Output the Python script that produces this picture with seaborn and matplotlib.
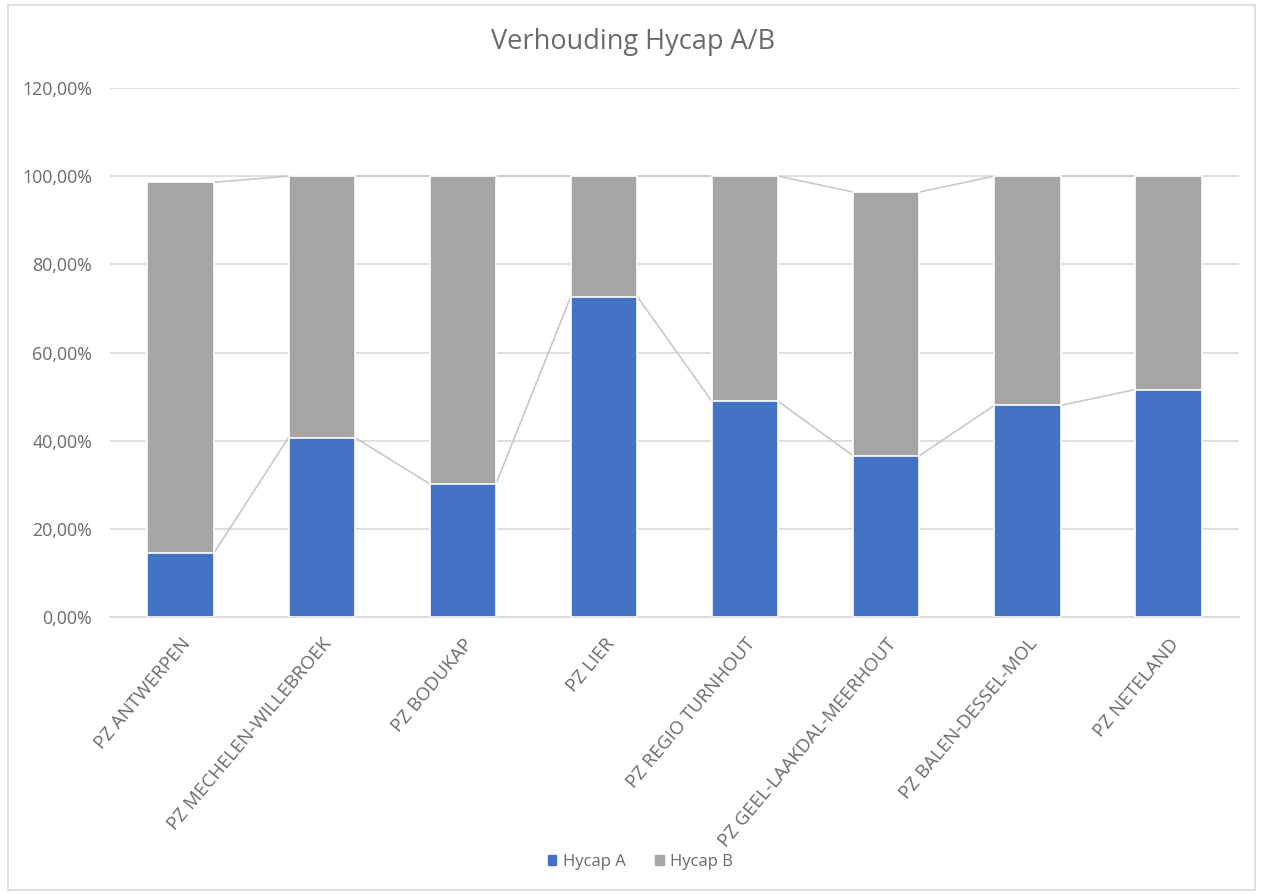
import matplotlib
matplotlib.use("Agg")
import matplotlib.pyplot as plt
import seaborn as sns
import pandas as pd
from matplotlib.ticker import FuncFormatter
from matplotlib.patches import Rectangle

categories = ["PZ ANTWERPEN", "PZ MECHELEN-WILLEBROEK", "PZ BODUKAP", "PZ LIER",
              "PZ REGIO TURNHOUT", "PZ GEEL-LAAKDAL-MEERHOUT", "PZ BALEN-DESSEL-MOL",
              "PZ NETELAND"]
hycap_a = [14.5, 40.7, 30.2, 72.7, 48.9, 36.6, 48.0, 51.6]
hycap_b = [84.1, 59.3, 69.8, 27.3, 51.1, 59.8, 52.0, 48.4]
yticks = [0, 20, 40, 60, 80, 100, 120]

blue = "#4472C4"
gray = "#A5A5A5"
txt = "#6A6A6A"

sns.set_theme(style="white")
plt.rcParams['font.family'] = ['Open Sans', 'DejaVu Sans']

totals = [a + b for a, b in zip(hycap_a, hycap_b)]
df = pd.DataFrame({"cat": categories, "A": hycap_a, "B": hycap_b, "total": totals})

fig = plt.figure(figsize=(12.63, 8.94), dpi=100)
ax = fig.add_axes([0.0871, 0.3098, 0.894, 0.5918])
width = 0.47
sns.barplot(data=df, x="cat", y="total", color=gray, width=width, ax=ax,
            saturation=1, edgecolor="white", linewidth=1.2, zorder=3)
sns.barplot(data=df, x="cat", y="A", color=blue, width=width, ax=ax,
            saturation=1, edgecolor="white", linewidth=1.2, zorder=3)

# series lines
n = len(categories)
for i in range(n - 1):
    for ser in (hycap_a, totals):
        ax.plot([i + width / 2, i + 1 - width / 2], [ser[i], ser[i + 1]],
                color="#C8C8C8", lw=1.2, zorder=2)

ax.set_ylim(0, 120)
ax.set_xlim(-0.5, n - 0.5)
ax.set_yticks(yticks)
ax.yaxis.set_major_formatter(FuncFormatter(lambda v, p: f"{v:.2f}%".replace(".", ",")))
ax.grid(axis="y", color="#D9D9D9", lw=1.2, zorder=0)
ax.set_axisbelow(True)
for s in ["top", "right", "left"]:
    ax.spines[s].set_visible(False)
ax.spines["bottom"].set_color("#D9D9D9")
ax.spines["bottom"].set_linewidth(1.2)
ax.set_xlabel("")
ax.set_ylabel("")
ax.tick_params(axis="y", colors=txt, labelsize=12.8, length=0, pad=13)
ax.tick_params(axis="x", colors=txt, labelsize=13.5, length=0, pad=13)
plt.setp(ax.get_xticklabels(), rotation=50, ha="right", rotation_mode="anchor")

fig.text(0.501, 0.953, "Verhouding Hycap A/B", ha="center", va="center",
         fontsize=19.5, color=txt)

handles = [Rectangle((0, 0), 1, 1, color=blue), Rectangle((0, 0), 1, 1, color=gray)]
fig.legend(handles, ["Hycap A", "Hycap B"], loc="center", bbox_to_anchor=(0.507, 0.036),
           ncol=2, frameon=False, fontsize=12, labelcolor=txt, handlelength=0.5,
           handleheight=0.5, columnspacing=1.8, handletextpad=0.4)

fig.patches.append(Rectangle((0.006, 0.004), 0.988, 0.99, transform=fig.transFigure,
                             fill=False, edgecolor="#D9D9D9", lw=1.2))

fig.savefig("out.png", dpi=100)
